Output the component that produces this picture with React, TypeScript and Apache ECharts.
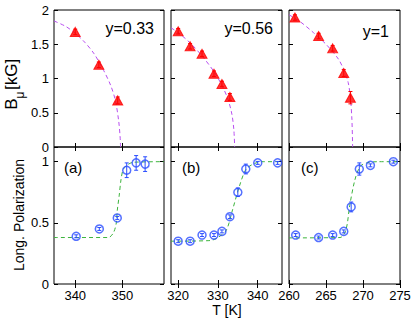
import React, { useEffect, useRef } from "react";
import * as echarts from "echarts";

// ---------- data ----------
// x ranges and tick values per column
const xRangeA = [335.5, 358.8];
const xRangeB = [318.2, 346.1];
const xRangeC = [260, 275];
const xTicksA = [340, 350];
const xTicksB = [320, 330, 340];
const xTicksC = [260, 265, 270, 275];
const yTicksTop = [0, 0.5, 1, 1.5, 2];
const yTicksBot = [0, 0.5, 1];

// Top row: muon field B_mu [kG]
const triTA = [340, 345, 349];
const triBA = [1.68, 1.2, 0.68];
const triErrA = [0.04, 0.04, 0.05];
const fitTA = [335.5, 338, 340, 342, 344, 346, 347.5, 348.5, 349.2, 349.5, 349.6];
const fitBA = [1.84, 1.76, 1.66, 1.53, 1.36, 1.12, 0.9, 0.68, 0.38, 0.15, 0];

const triTB = [320, 323, 326, 329, 331, 333];
const triBB = [1.69, 1.47, 1.36, 1.07, 0.92, 0.73];
const triErrB = [0.04, 0.04, 0.04, 0.04, 0.04, 0.05];
const fitTB = [318.2, 320, 323, 326, 329, 331, 332.5, 333.5, 334, 334.2];
const fitBB = [1.74, 1.67, 1.52, 1.33, 1.1, 0.9, 0.7, 0.48, 0.25, 0];

const triTC = [260.8, 264, 265.9, 267.4, 268.3];
const triBC = [1.89, 1.62, 1.44, 1.08, 0.72];
const triErrC = [0.04, 0.04, 0.04, 0.05, 0.09];
const fitTC = [260, 261.5, 263.3, 265, 266.7, 267.5, 268.0, 268.3, 268.5, 268.6];
const fitBC = [1.93, 1.83, 1.67, 1.5, 1.28, 1.1, 0.94, 0.72, 0.4, 0];

// Bottom row: longitudinal polarization
const cirTA = [340.2, 345.1, 348.9, 350.9, 352.9, 354.8];
const cirPA = [0.39, 0.45, 0.54, 0.93, 0.99, 0.98];
const cirErrA = [0.012, 0.012, 0.012, 0.06, 0.06, 0.06];
const sigTA = [335.5, 347.0, 348.1, 348.7, 348.9, 349.3, 349.7, 350.2, 351.3, 352.3, 358.8];
const sigPA = [0.38, 0.38, 0.42, 0.5, 0.6, 0.72, 0.855, 0.94, 0.98, 0.995, 1.0];

const cirTB = [320, 323, 326, 329, 331, 333, 335, 337, 340, 345];
const cirPB = [0.35, 0.35, 0.4, 0.4, 0.43, 0.55, 0.75, 0.94, 0.99, 0.99];
const cirErrB = [0.012, 0.012, 0.012, 0.012, 0.012, 0.015, 0.035, 0.04, 0.012, 0.012];
const sigTB = [318.2, 328, 330, 332.1, 333.7, 335.4, 337.1, 339.2, 341, 346.1];
const sigPB = [0.35, 0.355, 0.38, 0.44, 0.61, 0.8, 0.94, 0.985, 1.0, 1.0];

const cirTC = [260.9, 264, 265.9, 267.4, 268.4, 269.5, 271.0, 274.1];
const cirPC = [0.4, 0.38, 0.4, 0.43, 0.63, 0.94, 0.97, 1.0];
const cirErrC = [0.012, 0.012, 0.012, 0.012, 0.04, 0.05, 0.012, 0.012];
const sigTC = [260, 266.9, 267.7, 268.2, 268.9, 269.6, 270.5, 272, 275];
const sigPC = [0.377, 0.38, 0.445, 0.64, 0.85, 0.96, 0.99, 1.0, 1.0];

const panelLabels = ["(a)", "(b)", "(c)"];
const dopingLabels = ["y=0.33", "y=0.56", "y=1"];

// ---------- styling ----------
const FONT = "Liberation Sans, Arial, Helvetica, sans-serif";
const RED = "#ff0000";
const PURPLE = "#b84ef0";
const GREEN = "#3cb43c";
const BLUE = "#2a4dff";

const cols = [
  { left: 54, width: 110 },
  { left: 171, width: 111 },
  { left: 289, width: 111 },
];
const rows = [
  { top: 10, height: 137 },
  { top: 147, height: 137 },
];

const zip = (a: number[], b: number[]) => a.map((v, i) => [v, b[i]]);
const zip3 = (a: number[], b: number[], c: number[]) => a.map((v, i) => [v, b[i], c[i]]);

export default function App() {
  const ref = useRef<HTMLDivElement>(null);
  useEffect(() => {
    if (!ref.current) return;
    const chart = echarts.init(ref.current, null, { renderer: "svg" });

    const xRanges = [xRangeA, xRangeB, xRangeC];
    const xTicks = [xTicksA, xTicksB, xTicksC];
    const topSets = [
      { tT: triTA, tB: triBA, tE: triErrA, fT: fitTA, fB: fitBA },
      { tT: triTB, tB: triBB, tE: triErrB, fT: fitTB, fB: fitBB },
      { tT: triTC, tB: triBC, tE: triErrC, fT: fitTC, fB: fitBC },
    ];
    const botSets = [
      { cT: cirTA, cP: cirPA, cE: cirErrA, sT: sigTA, sP: sigPA },
      { cT: cirTB, cP: cirPB, cE: cirErrB, sT: sigTB, sP: sigPB },
      { cT: cirTC, cP: cirPC, cE: cirErrC, sT: sigTC, sP: sigPC },
    ];

    const grid: any[] = [];
    const xAxis: any[] = [];
    const yAxis: any[] = [];
    const series: any[] = [];

    const tickStyle = { lineStyle: { color: "#000", width: 1 } };
    const labelStyle = { color: "#000", fontSize: 13, fontFamily: FONT, margin: 5 };

    const errRender = (color: string) => (params: any, api: any) => {
      const x = api.value(0);
      const y = api.value(1);
      const e = api.value(2);
      const p1 = api.coord([x, y - e]);
      const p2 = api.coord([x, y + e]);
      const w = 2;
      const st = { stroke: color, lineWidth: 1 };
      return {
        type: "group",
        children: [
          { type: "line", shape: { x1: p1[0], y1: p1[1], x2: p2[0], y2: p2[1] }, style: st },
          { type: "line", shape: { x1: p1[0] - w, y1: p1[1], x2: p1[0] + w, y2: p1[1] }, style: st },
          { type: "line", shape: { x1: p2[0] - w, y1: p2[1], x2: p2[0] + w, y2: p2[1] }, style: st },
        ],
      };
    };

    let gi = 0;
    for (let r = 0; r < 2; r++) {
      for (let c = 0; c < 3; c++) {
        grid.push({
          left: cols[c].left,
          width: cols[c].width,
          top: rows[r].top,
          height: rows[r].height,
          show: true,
          borderColor: "#000",
          borderWidth: 1,
          backgroundColor: "transparent",
        });
        const [xmin, xmax] = xRanges[c];
        const ymax = r === 0 ? 2 : 1.12;
        const yt = r === 0 ? yTicksTop : yTicksBot;
        const xi = xAxis.length;
        const yi = yAxis.length;
        xAxis.push({
          type: "value",
          gridIndex: gi,
          min: xmin,
          max: xmax,
          position: "bottom",
          axisLine: { show: false },
          splitLine: { show: false },
          axisTick: { show: true, inside: true, length: 4, customValues: xTicks[c], ...tickStyle },
          axisLabel: { show: r === 1, customValues: xTicks[c], ...labelStyle },
        });
        xAxis.push({
          type: "value",
          gridIndex: gi,
          min: xmin,
          max: xmax,
          position: "top",
          axisLine: { show: false },
          splitLine: { show: false },
          axisTick: { show: true, inside: true, length: 4, customValues: xTicks[c], ...tickStyle },
          axisLabel: { show: false },
        });
        yAxis.push({
          type: "value",
          gridIndex: gi,
          min: 0,
          max: ymax,
          position: "left",
          axisLine: { show: false },
          splitLine: { show: false },
          axisTick: { show: true, inside: true, length: 4, customValues: yt, ...tickStyle },
          axisLabel: { show: c === 0, customValues: yt, ...labelStyle },
        });
        yAxis.push({
          type: "value",
          gridIndex: gi,
          min: 0,
          max: ymax,
          position: "right",
          axisLine: { show: false },
          splitLine: { show: false },
          axisTick: { show: true, inside: true, length: 4, customValues: yt, ...tickStyle },
          axisLabel: { show: false },
        });

        if (r === 0) {
          const s = topSets[c];
          series.push({
            type: "line",
            xAxisIndex: xi,
            yAxisIndex: yi,
            data: zip(s.fT, s.fB),
            showSymbol: false,
            smooth: 0.3,
            lineStyle: { color: PURPLE, width: 1, type: [4, 3] },
            z: 2,
          });
          series.push({
            type: "custom",
            xAxisIndex: xi,
            yAxisIndex: yi,
            data: zip3(s.tT, s.tB, s.tE),
            encode: { x: 0, y: 1 },
            renderItem: errRender(RED),
            z: 3,
          });
          series.push({
            type: "scatter",
            xAxisIndex: xi,
            yAxisIndex: yi,
            data: zip(s.tT, s.tB),
            symbol: "triangle",
            symbolSize: [10, 9],
            itemStyle: { color: RED, borderColor: RED, borderWidth: 1 },
            z: 4,
          });
        } else {
          const s = botSets[c];
          series.push({
            type: "line",
            xAxisIndex: xi,
            yAxisIndex: yi,
            data: zip(s.sT, s.sP),
            showSymbol: false,
            smooth: 0.3,
            lineStyle: { color: GREEN, width: 1, type: [4, 3] },
            z: 2,
          });
          series.push({
            type: "custom",
            xAxisIndex: xi,
            yAxisIndex: yi,
            data: zip3(s.cT, s.cP, s.cE),
            encode: { x: 0, y: 1 },
            renderItem: errRender(BLUE),
            z: 3,
          });
          series.push({
            type: "scatter",
            xAxisIndex: xi,
            yAxisIndex: yi,
            data: zip(s.cT, s.cP),
            symbol: "circle",
            symbolSize: 8,
            itemStyle: { color: "rgba(255,255,255,0)", borderColor: BLUE, borderWidth: 1.5 },
            z: 4,
          });
        }
        gi++;
      }
    }

    const textStyle = (fs: number) => ({ fill: "#000", fontSize: fs, fontFamily: FONT });

    const graphic: any[] = [
      { type: "text", x: 154, y: 28, style: { text: dopingLabels[0], ...textStyle(16), align: "right", verticalAlign: "middle" } },
      { type: "text", x: 273, y: 28, style: { text: dopingLabels[1], ...textStyle(16), align: "right", verticalAlign: "middle" } },
      { type: "text", x: 389, y: 31, style: { text: dopingLabels[2], ...textStyle(16), align: "right", verticalAlign: "middle" } },
      { type: "text", x: 64, y: 167, style: { text: panelLabels[0], ...textStyle(15), align: "left", verticalAlign: "middle" } },
      { type: "text", x: 182, y: 167, style: { text: panelLabels[1], ...textStyle(15), align: "left", verticalAlign: "middle" } },
      { type: "text", x: 301, y: 167, style: { text: panelLabels[2], ...textStyle(15), align: "left", verticalAlign: "middle" } },
      { type: "text", x: 11, y: 104, rotation: Math.PI / 2, style: { text: "B", ...textStyle(17), align: "center", verticalAlign: "middle" } },
      { type: "text", x: 20, y: 95, rotation: Math.PI / 2, style: { text: "μ", ...textStyle(12), align: "center", verticalAlign: "middle" } },
      { type: "text", x: 11, y: 90, rotation: Math.PI / 2, style: { text: "[kG]", ...textStyle(17), align: "left", verticalAlign: "middle" } },
      { type: "text", x: 19, y: 215, rotation: Math.PI / 2, style: { text: "Long. Polarization", ...textStyle(14), align: "center", verticalAlign: "middle" } },
      { type: "text", x: 227, y: 310, style: { text: "T [K]", ...textStyle(14), align: "center", verticalAlign: "middle" } },
    ];

    chart.setOption({
      animation: false,
      backgroundColor: "#fff",
      grid,
      xAxis,
      yAxis,
      series,
      graphic,
    });
    return () => chart.dispose();
  }, []);

  return (
    <div
      ref={ref}
      style={{ position: "absolute", left: 0, top: 0, width: 415, height: 320 }}
    />
  );
}
